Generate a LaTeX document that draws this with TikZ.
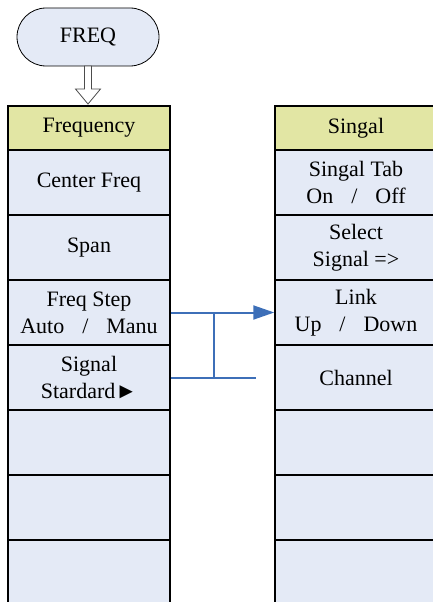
\documentclass[tikz,border=0pt]{standalone}
\usepackage{fontspec}
\setmainfont{Liberation Serif}
\usetikzlibrary{arrows.meta}
\definecolor{cellblue}{RGB}{228,234,246}
\definecolor{headyellow}{RGB}{226,230,164}
\definecolor{linkblue}{RGB}{61,111,184}
\newcommand{\slashgap}{\hspace{18pt}/\hspace{18pt}}

\begin{document}
\begin{tikzpicture}[x=1pt, y=-1pt,
  every node/.style={font=\fontsize{22}{27}\selectfont, align=center},
  cell/.style={rectangle, draw=black, line width=1.5pt, fill=cellblue, minimum width=162pt, minimum height=65pt, inner sep=0pt},
  head/.style={cell, fill=headyellow, minimum height=44pt},
  link/.style={draw=linkblue, line width=2pt}]
			\useasboundingbox (0,0) rectangle (432,602);
			
			\node[rectangle, rounded corners=29pt, draw=black, thick, fill=cellblue, minimum width=142pt, minimum height=58pt] (freq) at (88,37){FREQ};
			\draw[draw=black!70, fill=white, line width=0.8pt] (84.5,66) -- (84.5,89) -- (75.5,89) -- (88,104) -- (100.5,89) -- (91.5,89) -- (91.5,66) -- cycle;
			
			\node[head] (lh) at (89,128){Frequency};
			\node[cell] (l1) at (89,182.5){Center Freq};
			\node[cell] (l2) at (89,247.5){Span};
			\node[cell] (l3) at (89,312.5){Freq Step\\Auto\slashgap Manu};
			\node[cell] (l4) at (89,377.5){Signal\\Stardard►};
			\node[cell] (l5) at (89,442.5){};
			\node[cell] (l6) at (89,507.5){};
			\node[cell] (l7) at (89,572.5){};
			
			\node[head] (rh) at (356,128){Singal};
			\node[cell] (r1) at (356,182.5){Singal Tab\\On\slashgap Off};
			\node[cell] (r2) at (356,247.5){Select\\Signal =>};
			\node[cell] (r3) at (356,312.5){Link\\Up\slashgap Down};
			\node[cell] (r4) at (356,377.5){Channel};
			\node[cell] (r5) at (356,442.5){};
			\node[cell] (r6) at (356,507.5){};
			\node[cell] (r7) at (356,572.5){};
			
			\coordinate (j1) at (214,312.5);
			\coordinate (j2) at (214,377.5);
			\coordinate (e2) at (256,377.5);
			
			\draw[link, -{Triangle[length=21pt, width=14pt]}] (l3.east) -- (r3.west);
			\path[link] (l4.east) edge (e2);
			\path[link] (j1) edge (j2);
			\end{tikzpicture}
\end{document}
